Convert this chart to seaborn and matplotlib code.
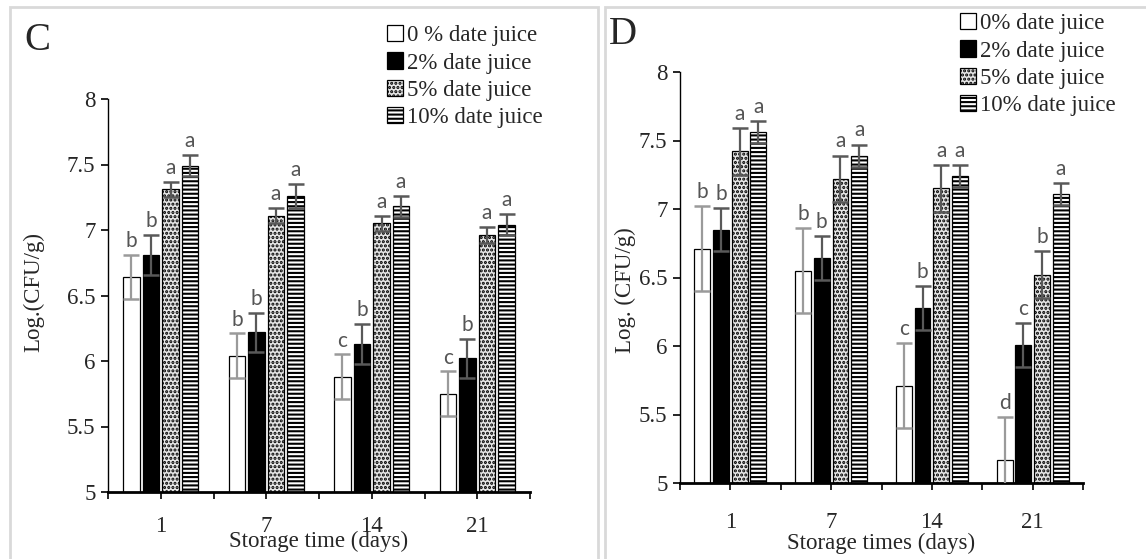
import numpy as np
import pandas as pd
import matplotlib
matplotlib.use("Agg")
import matplotlib.pyplot as plt
from matplotlib.patches import Rectangle
import seaborn as sns

# Data
days = ['1', '7', '14', '21']
concs = ['0%', '2%', '5%', '10%']

# panel C
c_mean = {
    '0%': [6.64, 6.04, 5.88, 5.75],
    '2%': [6.81, 6.22, 6.13, 6.02],
    '5%': [7.31, 7.11, 7.05, 6.96],
    '10%': [7.49, 7.26, 7.18, 7.04],
}
c_err = {'0%': [0.17, 0.17, 0.17, 0.17], '2%': [0.15, 0.15, 0.15, 0.15],
         '5%': [0.06, 0.06, 0.06, 0.06], '10%': [0.08, 0.09, 0.08, 0.08]}
c_letters = {'0%': ['b', 'b', 'c', 'c'], '2%': ['b', 'b', 'b', 'b'],
             '5%': ['a', 'a', 'a', 'a'], '10%': ['a', 'a', 'a', 'a']}
c_legend = ['0 % date juice', '2% date juice', '5% date juice', '10% date juice']

# panel D
d_mean = {
    '0%': [6.71, 6.55, 5.71, 5.17],
    '2%': [6.85, 6.64, 6.28, 6.01],
    '5%': [7.42, 7.22, 7.15, 6.52],
    '10%': [7.56, 7.39, 7.24, 7.11],
}
d_err = {'0%': [0.31, 0.31, 0.31, 0.31], '2%': [0.16, 0.16, 0.16, 0.16],
         '5%': [0.17, 0.17, 0.17, 0.17], '10%': [0.08, 0.08, 0.08, 0.08]}
d_letters = {'0%': ['b', 'b', 'c', 'd'], '2%': ['b', 'b', 'b', 'c'],
             '5%': ['a', 'a', 'a', 'b'], '10%': ['a', 'a', 'a', 'a']}
d_legend = ['0% date juice', '2% date juice', '5% date juice', '10% date juice']

yticks = [5, 5.5, 6, 6.5, 7, 7.5, 8]

sns.set_style('white')
plt.rcParams['font.family'] = ['Liberation Serif', 'DejaVu Serif']
plt.rcParams['hatch.linewidth'] = 1.5

W, H = 1146, 559
fig = plt.figure(figsize=(W / 100, H / 100), dpi=100)

face = {'0%': 'white', '2%': 'black', '5%': '#e6e6e6', '10%': 'white'}
hatch = {'0%': None, '2%': None, '5%': '....', '10%': '----'}
hcol = {'0%': 'black', '2%': 'black', '5%': '#707070', '10%': '#303030'}
ecol = {'0%': '#9a9a9a', '2%': '#595959', '5%': '#595959', '10%': '#595959'}


def px_axes(l, r, top, bot):
    return fig.add_axes([l / W, 1 - bot / H, (r - l) / W, (bot - top) / H])


def panel(ax, means, errs, letters, legend_labels, tag, xlabel, ylabel,
          xlab_y, ylab_x, ylab_y, tick_pad, leg_anchor, tag_xy):
    rows = []
    for c in concs:
        for d, v in zip(days, means[c]):
            rows.append({'day': d, 'conc': c, 'value': v})
    df = pd.DataFrame(rows)
    sns.barplot(data=df, x='day', y='value', hue='conc', order=days,
                hue_order=concs, width=0.74, gap=0.15, errorbar=None,
                palette=[face[c] for c in concs], edgecolor='black',
                linewidth=0.9, saturation=1, legend=False, ax=ax)
    for cont, c in zip(ax.containers, concs):
        for i, p in enumerate(cont.patches):
            p.set_facecolor(face[c])
            if hatch[c]:
                p.set_hatch(hatch[c])
                if hasattr(p, 'set_hatchcolor'):
                    p.set_hatchcolor(hcol[c])
            xc = p.get_x() + p.get_width() / 2
            y = p.get_height()
            e = errs[c][i]
            ax.errorbar(xc, y, yerr=e, fmt='none', ecolor=ecol[c],
                        elinewidth=1.6, capsize=5.5, capthick=1.8, zorder=5)
            ax.text(xc, y + e + 0.03, letters[c][i], ha='center',
                    va='bottom', fontsize=15, color='#555555',
                    family=['Lato', 'DejaVu Sans'], zorder=6)

    ax.set_ylim(5, 8)
    ax.set_xlim(-0.5, 3.5)
    ax.set_yticks(yticks)
    ax.set_yticklabels(['%g' % t for t in yticks])
    ax.set_xticks(range(4))
    ax.set_xticklabels(days)
    ax.set_xticks(np.arange(-0.5, 4, 1), minor=True)
    ax.tick_params(axis='both', which='both', direction='out', length=5,
                   width=1.2, color='black', labelsize=16.5, bottom=True,
                   left=True)
    ax.tick_params(axis='x', which='major', pad=tick_pad)
    ax.tick_params(axis='y', pad=4)
    for s in ['top', 'right']:
        ax.spines[s].set_visible(False)
    ax.spines['bottom'].set_linewidth(2)
    ax.spines['left'].set_linewidth(1)
    ax.spines['bottom'].set_color('black')
    ax.spines['left'].set_color('black')

    ax.set_xlabel(xlabel, fontsize=16.5)
    ax.set_ylabel(ylabel, fontsize=16.5)
    ax.xaxis.set_label_coords(0.5, xlab_y)
    ax.yaxis.set_label_coords(ylab_x, ylab_y)

    ax.legend(ax.containers, legend_labels, loc='upper right',
              bbox_to_anchor=(leg_anchor[0] / W, 1 - leg_anchor[1] / H),
              bbox_transform=fig.transFigure, frameon=False, fontsize=16.5,
              handlelength=0.7, handleheight=0.7, handletextpad=0.2,
              labelspacing=0.28, borderpad=0, borderaxespad=0)
    fig.text(tag_xy[0] / W, 1 - tag_xy[1] / H, tag, fontsize=28,
             ha='left', va='center')


axC = px_axes(108, 530, 99, 492)
axD = px_axes(680, 1083, 72, 483)

panel(axC, c_mean, c_err, c_letters, c_legend, 'C', 'Storage time (days)',
      'Log.(CFU/g)', -0.10, -0.15, 0.51, 12, (543, 25), (24, 40))
panel(axD, d_mean, d_err, d_letters, d_legend, 'D', 'Storage times (days)',
      'Log. (CFU/g)', -0.122, -0.11, 0.47, 16, (1116, 13), (609, 34))

# grey panel frames
for x0, x1 in [(10, 598), (605, 1160)]:
    fig.add_artist(Rectangle((x0 / W, -0.05), (x1 - x0) / W, 1.05 - 7 / H,
                             transform=fig.transFigure, fill=False,
                             edgecolor='#d9d9d9', linewidth=2))

fig.savefig('out.png', dpi=100)
